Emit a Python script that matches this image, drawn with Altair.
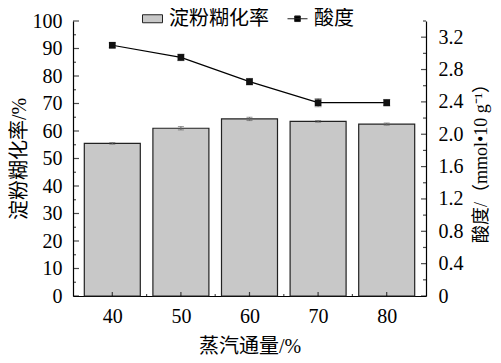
import altair as alt
import pandas as pd

# ---- data ----
steam = [40, 50, 60, 70, 80]
gel_rate = [55.5, 61.0, 64.4, 63.5, 62.5]
gel_err = [0.3, 0.6, 0.6, 0.3, 0.4]
acidity = [3.10, 2.95, 2.65, 2.39, 2.39]
acid_err = [0.03, 0.04, 0.04, 0.05, 0.04]

x_major = [40, 50, 60, 70, 80]
x_minor = [45, 55, 65, 75]
left_major = [0, 10, 20, 30, 40, 50, 60, 70, 80, 90, 100]
left_minor = [5, 15, 25, 35, 45, 55, 65, 75, 85, 95]
right_major = [0, 0.4, 0.8, 1.2, 1.6, 2.0, 2.4, 2.8, 3.2]
right_minor = [0.2, 0.6, 1.0, 1.4, 1.8, 2.2, 2.6, 3.0, 3.4]
series = ["淀粉糊化率", "酸度"]

W, H = 353, 275
FONT = "Liberation Serif, Times New Roman, Noto Sans CJK SC"
GRAY = "#c8c8c8"
ERR = "#666666"

df = pd.DataFrame({
    "steam": steam,
    "gel": gel_rate,
    "gel_lo": [v - e for v, e in zip(gel_rate, gel_err)],
    "gel_hi": [v + e for v, e in zip(gel_rate, gel_err)],
    "acid": acidity,
    "acid_lo": [v - e for v, e in zip(acidity, acid_err)],
    "acid_hi": [v + e for v, e in zip(acidity, acid_err)],
})

xscale = alt.Scale(domain=[35, 85], nice=False, zero=False)
lscale = alt.Scale(domain=[0, 100], nice=False)
rscale = alt.Scale(domain=[0, 3.4], nice=False)

ax_style = dict(ticks=False, grid=False, domainColor="black", domainWidth=1.2,
                labelFont=FONT, labelFontSize=20, labelColor="black",
                titleFont=FONT, titleColor="black", titleFontWeight="normal")
xaxis = alt.Axis(values=x_major, title="蒸汽通量/%", labelPadding=10, titlePadding=10,
                 titleFontSize=20, **ax_style)
laxis = alt.Axis(values=left_major, title="淀粉糊化率/%", labelPadding=11, titlePadding=3,
                 titleFontSize=20, **ax_style)
raxis = alt.Axis(values=right_major, orient="right", title="酸度/（mmol•10 g⁻¹）",
                 titleAngle=270, titleBaseline="top", titleFontSize=18,
                 labelExpr="datum.value == 0 ? '0' : format(datum.value, '.1f')",
                 labelPadding=12, titlePadding=9, **ax_style)

base = alt.Chart(df)

bars = base.mark_bar(size=56, fill=GRAY, stroke="#222", strokeWidth=1.2).encode(
    x=alt.X("steam:Q", scale=xscale, axis=xaxis),
    y=alt.Y("gel:Q", scale=lscale, axis=laxis),
)
bar_err = base.mark_errorbar(ticks=alt.MarkConfig(size=6), color=ERR).encode(
    x=alt.X("steam:Q", scale=xscale, axis=xaxis),
    y=alt.Y("gel_lo:Q", scale=lscale, axis=laxis),
    y2="gel_hi:Q",
)

def tick_layer(vals, field, scale, axis, orient, length):
    d = alt.Chart(pd.DataFrame({field: vals})).mark_tick(
        size=length, thickness=1.2, color="black")
    if orient == "bottom":
        return d.encode(x=alt.X(f"{field}:Q", scale=scale, axis=axis),
                        y=alt.value(H - length / 2))
    if orient == "left":
        return d.encode(y=alt.Y(f"{field}:Q", scale=scale, axis=axis),
                        x=alt.value(length / 2))
    return d.encode(y=alt.Y(f"{field}:Q", scale=scale, axis=axis),
                    x=alt.value(W - length / 2))

legend_kw = dict(orient="none", legendX=69, legendY=-13, direction="horizontal",
                 title=None, labelFont=FONT, labelFontSize=20, labelColor="black",
                 symbolSize=400, symbolStrokeWidth=1,
                 symbolOpacity=1, columnPadding=16, labelOffset=6)

rect_path = "M-1,-0.4H1V0.4H-1Z"
line_path = "M-1,0H1M-0.28,-0.28H0.28V0.28H-0.28Z"

legend_layer = alt.Chart(pd.DataFrame({"series": series})).mark_point(
    filled=True, opacity=0).encode(
    fill=alt.Fill("series:N", scale=alt.Scale(domain=series, range=[GRAY, "black"]),
                  legend=alt.Legend(**legend_kw)),
    stroke=alt.Stroke("series:N", scale=alt.Scale(domain=series, range=["#222", "#222"]),
                      legend=alt.Legend(**legend_kw)),
    shape=alt.Shape("series:N", scale=alt.Scale(domain=series, range=[rect_path, line_path]),
                    legend=alt.Legend(**legend_kw)),
)

left_group = alt.layer(
    bars, bar_err,
    tick_layer(x_major, "xm", xscale, xaxis, "bottom", 4),
    tick_layer(x_minor, "xn", xscale, xaxis, "bottom", 2),
    tick_layer(left_major, "lm", lscale, laxis, "left", 6),
    tick_layer(left_minor, "ln", lscale, laxis, "left", 3),
    legend_layer,
)

line = base.mark_line(color="black", strokeWidth=1.2).encode(
    x=alt.X("steam:Q", scale=xscale, axis=xaxis),
    y=alt.Y("acid:Q", scale=rscale, axis=raxis),
)
acid_err_layer = base.mark_errorbar(ticks=alt.MarkConfig(size=7), color=ERR).encode(
    x=alt.X("steam:Q", scale=xscale, axis=xaxis),
    y=alt.Y("acid_lo:Q", scale=rscale, axis=raxis),
    y2="acid_hi:Q",
)
points = base.mark_point(shape="square", filled=True, color="#111", size=45, opacity=1).encode(
    x=alt.X("steam:Q", scale=xscale, axis=xaxis),
    y=alt.Y("acid:Q", scale=rscale, axis=raxis),
)

right_group = alt.layer(
    line, acid_err_layer, points,
    tick_layer(right_major, "rm", rscale, raxis, "right", 5),
    tick_layer(right_minor, "rn", rscale, raxis, "right", 3),
)

chart = alt.layer(left_group, right_group).resolve_scale(y="independent").properties(
    width=W, height=H,
    autosize=alt.AutoSizeParams(type="none"),
    padding={"left": 65, "top": 13, "right": 67, "bottom": 66},
    background="white",
).configure_view(stroke=None)

chart.save("out.html", embed_options={"renderer": "svg", "actions": False})
